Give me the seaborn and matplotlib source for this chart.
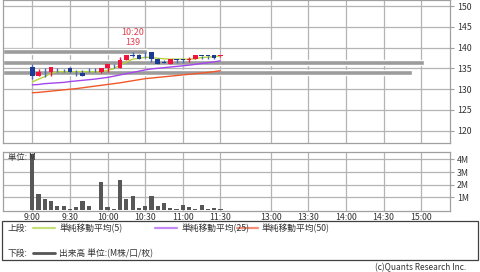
import numpy as np
import pandas as pd
import matplotlib
matplotlib.use("Agg")
import matplotlib.pyplot as plt
import matplotlib.transforms as mtransforms
from matplotlib.lines import Line2D
from matplotlib.patches import Rectangle
import seaborn as sns

# ---------------- data ----------------
times = ["9:00", "9:05", "9:10", "9:15", "9:20", "9:25", "9:30", "9:35", "9:40", "9:45",
         "9:50", "9:55", "10:00", "10:05", "10:10", "10:15", "10:20", "10:25", "10:30", "10:35",
         "10:40", "10:45", "10:50", "10:55", "11:00", "11:05", "11:10", "11:15", "11:20", "11:25",
         "11:30"]
open_ = [135.2, 133.2, 134.2, 134.0, 134.2, 134.2, 135.0, 134.1, 133.95, 134.2,
         134.2, 134.1, 135.0, 135.4, 135.1, 137.0, 138.1, 138.1, 138.2, 138.9,
         137.2, 136.5, 136.0, 137.1, 137.1, 137.1, 137.2, 138.0, 138.0, 138.2,
         137.9]
high = [136.0, 134.9, 135.0, 135.25, 135.0, 134.9, 135.2, 134.6, 134.6, 135.0,
        135.0, 135.0, 136.0, 136.0, 137.8, 138.2, 139.0, 138.5, 138.9, 138.9,
        137.5, 137.0, 137.2, 137.2, 137.2, 137.6, 138.2, 138.0, 138.0, 138.2,
        138.0]
low = [132.4, 133.1, 133.0, 133.2, 134.0, 134.0, 133.9, 133.1, 133.1, 134.0,
       134.0, 133.8, 134.1, 135.1, 135.1, 137.0, 137.7, 137.3, 137.4, 136.5,
       136.0, 136.3, 136.0, 136.3, 136.3, 136.4, 137.2, 137.3, 137.3, 137.3,
       137.8]
close = [133.2, 134.2, 134.0, 135.25, 134.0, 134.0, 134.2, 134.0, 133.15, 134.0,
         134.0, 135.0, 136.0, 135.2, 137.1, 138.1, 138.0, 137.3, 138.1, 137.3,
         136.0, 136.3, 137.2, 137.0, 137.0, 137.1, 138.1, 137.9, 137.9, 137.5,
         137.9]
ma5 = [131.7, 132.4, 133.0, 133.8, 134.2, 134.2, 134.2, 134.2, 134.2, 134.2,
       134.2, 134.2, 134.5, 134.9, 135.8, 136.5, 137.2, 137.4, 137.65, 137.6,
       137.4, 137.3, 137.2, 137.2, 137.2, 137.2, 137.3, 137.6, 137.7, 137.8,
       138.0]
ma25 = [131.0, 131.1, 131.3, 131.4, 131.5, 131.6, 131.8, 131.95, 132.1, 132.25,
        132.4, 132.6, 132.8, 133.1, 133.4, 133.7, 134.0, 134.3, 134.6, 134.85,
        135.0, 135.15, 135.3, 135.45, 135.6, 135.75, 135.95, 136.15, 136.35, 136.55,
        136.8]
ma50 = [129.1, 129.2, 129.35, 129.5, 129.65, 129.8, 129.95, 130.1, 130.3, 130.5,
        130.7, 130.9, 131.1, 131.3, 131.5, 131.75, 132.0, 132.25, 132.5, 132.65,
        132.8, 132.95, 133.1, 133.25, 133.4, 133.55, 133.7, 133.85, 134.0, 134.2,
        134.4]
volume = [4.4, 1.27, 0.84, 0.73, 0.3, 0.35, 0.04, 0.23, 0.73, 0.32,
          0.03, 2.2, 0.2, 0.1, 2.4, 0.86, 1.13, 0.14, 0.33, 1.13,
          0.32, 0.55, 0.18, 0.05, 0.42, 0.22, 0.05, 0.36, 0.1, 0.12,
          0.08]
profile_price = [139.0, 136.3, 133.9]
profile_share = [0.322, 0.942, 0.915]
high_label_time = "10:20"
high_label_value = "139"

tick_slots = [0, 6, 12, 18, 24, 30, 38, 44, 50, 56, 62]
tick_labels = ["9:00", "9:30", "10:00", "10:30", "11:00", "11:30",
               "13:00", "13:30", "14:00", "14:30", "15:00"]
price_ticks = [120, 125, 130, 135, 140, 145, 150]
vol_ticks = [1, 2, 3, 4]
vol_tick_labels = ["1M", "2M", "3M", "4M"]

# ---------------- style ----------------
sns.set_theme(style="white")
plt.rcParams['font.family'] = ['Noto Sans CJK JP', 'DejaVu Sans']

W, H = 480, 272
fig = plt.figure(figsize=(W / 100, H / 100), dpi=100)
fig.patch.set_facecolor("white")

def fx(px):
    return px / W

def fy(py):
    return 1 - py / H

GRID = "#b4b4b4"
FRAME = "#a0a0a0"
TXT = "#333333"
UP = "#f0143c"
DOWN = "#1c3a94"
WICK_DOWN = "#4a68b8"
C_MA5 = "#b5d43a"
C_MA25 = "#a346ee"
C_MA50 = "#f0582a"

n = len(times)
slots = np.arange(n)
df = pd.DataFrame({"slot": slots, "time": times, "open": open_, "high": high,
                   "low": low, "close": close, "ma5": ma5, "ma25": ma25,
                   "ma50": ma50, "volume": volume})

xlim = (-4.67, 66.6)

# ---------------- price panel ----------------
ax = fig.add_axes([fx(3), fy(143), fx(447), 143 / H])
ax.set_xlim(*xlim)
ax.set_ylim(117.0, 151.45)
ax.set_axisbelow(True)
ax.set_xticks(tick_slots)
ax.set_xticklabels([])
ax.set_yticks(price_ticks)
ax.grid(True, color=GRID, linewidth=0.9)
ax.tick_params(axis="x", length=0)
ax.tick_params(axis="y", left=False, labelleft=False, right=True, labelright=True,
               direction="out", length=3, width=0.8, color=FRAME, labelsize=6.3,
               labelcolor=TXT, pad=2)
for s in ax.spines.values():
    s.set_color(FRAME)
    s.set_linewidth(0.9)

# volume-by-price bars
trans = mtransforms.blended_transform_factory(ax.transAxes, ax.transData)
ax.barh(profile_price, profile_share, left=0, height=1.25, color="#9c9c9c",
        transform=trans, zorder=1)

# moving averages
sns.lineplot(data=df, x="slot", y="ma50", ax=ax, color=C_MA50, linewidth=1.0, zorder=2)
sns.lineplot(data=df, x="slot", y="ma25", ax=ax, color=C_MA25, linewidth=1.0, zorder=2)
sns.lineplot(data=df, x="slot", y="ma5", ax=ax, color=C_MA5, linewidth=1.0, zorder=2)

# candles
up = df["close"] >= df["open"]
body_lo = np.minimum(df["open"], df["close"])
body_h = np.maximum(np.abs(df["close"] - df["open"]), 0.18)
wick_cols = [UP if u else WICK_DOWN for u in up]
ax.vlines(df["slot"], df["low"], df["high"], colors=wick_cols, linewidth=1.0, zorder=3)
ax.bar(df["slot"], body_h, bottom=body_lo, width=0.72,
       color=[UP if u else DOWN for u in up], linewidth=0, zorder=4)

ax.set_xlabel("")
ax.set_ylabel("")

# high annotation
hi_idx = times.index(high_label_time)
ax.text(hi_idx, 143.7, high_label_time, color="#e0404f", fontsize=6.5,
        ha="center", va="center")
ax.text(hi_idx, 141.3, high_label_value, color="#e0404f", fontsize=6.5,
        ha="center", va="center")

# ---------------- volume panel ----------------
axv = fig.add_axes([fx(3), fy(211), fx(447), 59 / H])
sns.barplot(data=df, x="slot", y="volume", ax=axv, native_scale=True,
            color="#575757", saturation=1, width=0.66, linewidth=0, zorder=3)
axv.set_xlim(*xlim)
axv.set_ylim(-0.08, 4.58)
axv.set_axisbelow(True)
axv.set_xticks(tick_slots)
axv.set_xticklabels(tick_labels)
axv.set_yticks(vol_ticks)
axv.set_yticklabels(vol_tick_labels)
axv.grid(True, color=GRID, linewidth=0.9)
axv.tick_params(axis="x", length=0, labelsize=6.3, labelcolor=TXT, pad=1.5)
axv.tick_params(axis="y", left=False, labelleft=False, right=True, labelright=True,
                direction="out", length=3, width=0.8, color=FRAME, labelsize=6.3,
                labelcolor=TXT, pad=2)
for s in axv.spines.values():
    s.set_color(FRAME)
    s.set_linewidth(0.9)
axv.set_xlabel("")
axv.set_ylabel("")
axv.text(0.012, 0.9, "単位: M", transform=axv.transAxes, fontsize=6, color=TXT,
         ha="left", va="center", zorder=5)

# ---------------- legend box ----------------
fig.add_artist(Rectangle((fx(2), fy(260)), fx(476), 39 / H, transform=fig.transFigure,
                         facecolor="white", edgecolor="#404040", linewidth=0.9))

def leg_line(x0, x1, y, color, lw=1.6):
    fig.add_artist(Line2D([fx(x0), fx(x1)], [fy(y), fy(y)], transform=fig.transFigure,
                          color=color, linewidth=lw))

def leg_text(x, y, s):
    fig.text(fx(x), fy(y), s, fontsize=6.3, color=TXT, ha="left", va="center")

leg_text(8, 228, "上段:")
leg_line(33, 55, 228, "#c8e07a")
leg_text(59, 228, "単純移動平均(5)")
leg_line(155, 177, 228, "#c58af5")
leg_text(182, 228, "単純移動平均(25)")
leg_line(237, 258, 228, "#f5907a")
leg_text(262, 228, "単純移動平均(50)")
leg_text(8, 253, "下段:")
leg_line(33, 55, 253, "#555555", lw=2.0)
leg_text(59, 253, "出来高 単位:(M株/口/枚)")

fig.text(fx(466), fy(268), "(c)Quants Research Inc.", fontsize=6, color=TXT,
         ha="right", va="center")

fig.savefig("out.png", dpi=100)
